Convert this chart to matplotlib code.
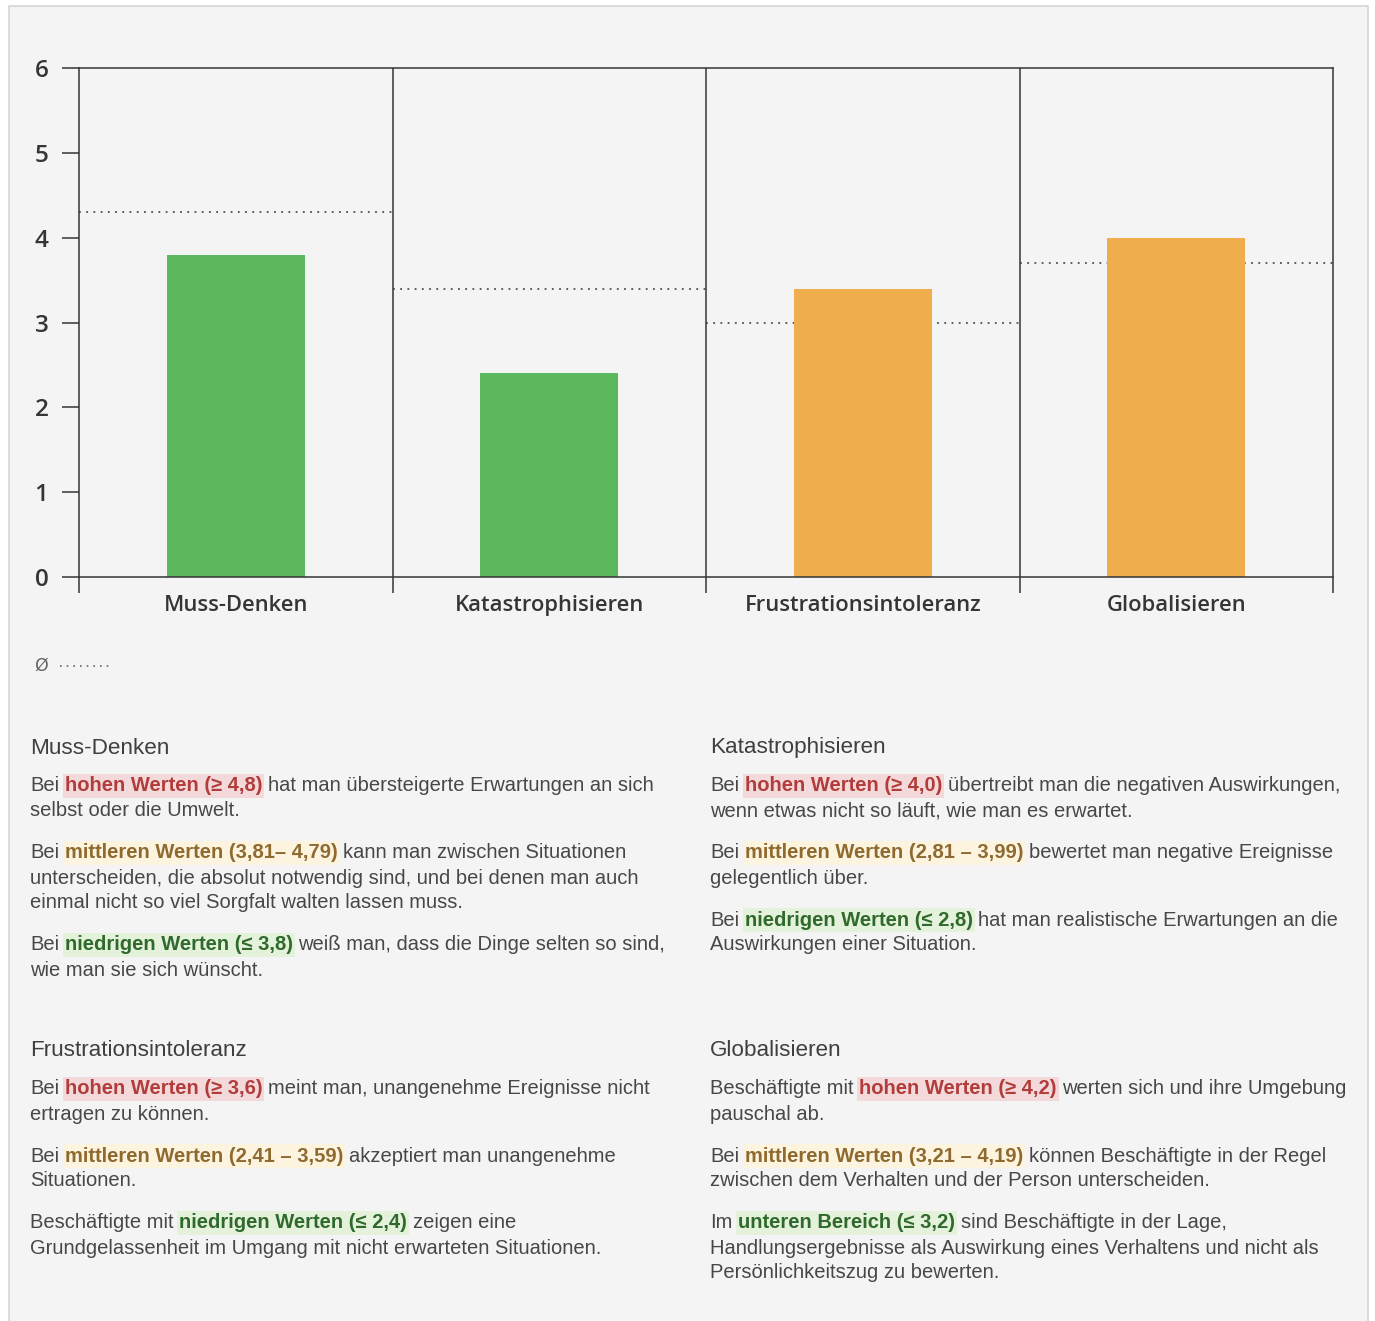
import matplotlib.pyplot as plt
from matplotlib.patches import Rectangle
from matplotlib.lines import Line2D

# chart data
categories = ["Muss-Denken", "Katastrophisieren", "Frustrationsintoleranz", "Globalisieren"]
scores = [3.8, 2.4, 3.4, 4.0]
averages = [4.3, 3.4, 3.0, 3.7]
bar_colors = ["#5cb85c", "#5cb85c", "#f0ad4e", "#f0ad4e"]
y_ticks = [0, 1, 2, 3, 4, 5, 6]

# description texts, hand-broken like the original
N, HI, MID, LO = "n", "hi", "mid", "lo"
desc_muss = [
    [[("Bei ", N), ("hohen Werten (≥ 4,8)", HI), (" hat man übersteigerte Erwartungen an sich", N)],
     [("selbst oder die Umwelt.", N)]],
    [[("Bei ", N), ("mittleren Werten (3,81– 4,79)", MID), (" kann man zwischen Situationen", N)],
     [("unterscheiden, die absolut notwendig sind, und bei denen man auch", N)],
     [("einmal nicht so viel Sorgfalt walten lassen muss.", N)]],
    [[("Bei ", N), ("niedrigen Werten (≤ 3,8)", LO), (" weiß man, dass die Dinge selten so sind,", N)],
     [("wie man sie sich wünscht.", N)]],
]
desc_kata = [
    [[("Bei ", N), ("hohen Werten (≥ 4,0)", HI), (" übertreibt man die negativen Auswirkungen,", N)],
     [("wenn etwas nicht so läuft, wie man es erwartet.", N)]],
    [[("Bei ", N), ("mittleren Werten (2,81 – 3,99)", MID), (" bewertet man negative Ereignisse", N)],
     [("gelegentlich über.", N)]],
    [[("Bei ", N), ("niedrigen Werten (≤ 2,8)", LO), (" hat man realistische Erwartungen an die", N)],
     [("Auswirkungen einer Situation.", N)]],
]
desc_frust = [
    [[("Bei ", N), ("hohen Werten (≥ 3,6)", HI), (" meint man, unangenehme Ereignisse nicht", N)],
     [("ertragen zu können.", N)]],
    [[("Bei ", N), ("mittleren Werten (2,41 – 3,59)", MID), (" akzeptiert man unangenehme", N)],
     [("Situationen.", N)]],
    [[("Beschäftigte mit ", N), ("niedrigen Werten (≤ 2,4)", LO), (" zeigen eine", N)],
     [("Grundgelassenheit im Umgang mit nicht erwarteten Situationen.", N)]],
]
desc_glob = [
    [[("Beschäftigte mit ", N), ("hohen Werten (≥ 4,2)", HI), (" werten sich und ihre Umgebung", N)],
     [("pauschal ab.", N)]],
    [[("Bei ", N), ("mittleren Werten (3,21 – 4,19)", MID), (" können Beschäftigte in der Regel", N)],
     [("zwischen dem Verhalten und der Person unterscheiden.", N)]],
    [[("Im ", N), ("unteren Bereich (≤ 3,2)", LO), (" sind Beschäftigte in der Lage,", N)],
     [("Handlungsergebnisse als Auswirkung eines Verhaltens und nicht als", N)],
     [("Persönlichkeitszug zu bewerten.", N)]],
]
descriptions = [desc_muss, desc_kata, desc_frust, desc_glob]

W, H = 1375, 1321
BG = "#f4f4f4"
DARK = "#353535"
TEXT = "#474747"
styles = {
    N: dict(color=TEXT, weight="normal", bg=None),
    HI: dict(color="#b13c3c", weight="bold", bg="#f3d9d9"),
    MID: dict(color="#8f6a30", weight="bold", bg="#fcf4de"),
    LO: dict(color="#2f6a2c", weight="bold", bg="#e4f1db"),
}

fig = plt.figure(figsize=(W / 100, H / 100), dpi=100, facecolor="white")
fig.patches.append(Rectangle((9 / W, -0.01), (1368 - 9) / W, 1 - 6 / H + 0.01,
                             transform=fig.transFigure, facecolor=BG,
                             edgecolor="#d6d6d6", linewidth=1.2, zorder=-10))

ax = fig.add_axes([79 / W, 1 - 577 / H, (1333 - 79) / W, (577 - 68) / H])
ax.set_facecolor(BG)
x = list(range(len(categories)))
for i, avg in enumerate(averages):
    ax.hlines(avg, i - 0.5, i + 0.5, colors="#4f4f4f", linestyles=(0, (1, 3)),
              linewidth=1.3, zorder=1)
ax.bar(x, scores, width=0.44, color=bar_colors, zorder=2)
for b in [0.5, 1.5, 2.5]:
    ax.axvline(b, color=DARK, linewidth=1.1, zorder=3)

ax.set_xlim(-0.5, len(categories) - 0.5)
ax.set_ylim(0, 6)
ax.set_yticks(y_ticks)
ax.set_yticklabels([str(t) for t in y_ticks], fontfamily="Open Sans",
                   fontweight="semibold", fontsize=17.5, color=DARK)
ax.set_xticks([i - 0.5 for i in range(len(categories) + 1)])
ax.set_xticklabels([])
ax.set_xticks(x, minor=True)
ax.set_xticklabels(categories, minor=True, fontfamily="Open Sans",
                   fontweight="semibold", fontsize=15.8, color=DARK)
ax.tick_params(axis="y", length=12, width=1.1, color=DARK, pad=10)
ax.tick_params(axis="x", which="major", length=11.5, width=1.1, color=DARK)
ax.tick_params(axis="x", which="minor", length=0, pad=13)
for s in ax.spines.values():
    s.set_color(DARK)
    s.set_linewidth(1.1)
    s.set_zorder(4)

# legend for the average line
fig.text(34 / W, 1 - 666 / H, "Ø", fontsize=12.5, color="#666666", va="center",
         fontfamily="DejaVu Sans")
fig.lines.append(Line2D([60 / W, 110 / W], [1 - 666 / H, 1 - 666 / H],
                        transform=fig.transFigure, color="#666666",
                        linestyle=(0, (1, 3)), linewidth=1.2))

renderer = fig.canvas.get_renderer()
BODY = 14.5


def text_width(s, weight):
    t = fig.text(0, 0, s, fontsize=BODY, fontfamily="Liberation Sans", fontweight=weight)
    w = t.get_window_extent(renderer).width
    t.remove()
    return w


space_w = {wt: text_width("x x", wt) - text_width("xx", wt) for wt in ["normal", "bold"]}


def draw_line(x0, y0, pieces):
    xp = x0
    for s, kind in pieces:
        st = styles[kind]
        lead = len(s) - len(s.lstrip(" "))
        trail = len(s) - len(s.rstrip(" "))
        xp += lead * space_w[st["weight"]]
        core = s.strip(" ")
        kw = {}
        if st["bg"]:
            kw["bbox"] = dict(facecolor=st["bg"], edgecolor="none", pad=1.4)
        t = fig.text(xp / W, 1 - y0 / H, core, fontsize=BODY, fontfamily="Liberation Sans",
                     fontweight=st["weight"], color=st["color"], va="center", **kw)
        xp += t.get_window_extent(renderer).width
        xp += trail * space_w[st["weight"]]


origins = [(30, 748), (710, 748), (30, 1051), (710, 1051)]
for (bx, by), title, paras in zip(origins, categories, descriptions):
    fig.text(bx / W, 1 - by / H, title, fontsize=16.2, fontfamily="Liberation Sans",
             color="#3f3f3f", va="center")
    y = by + 38
    for para in paras:
        for line in para:
            draw_line(bx, y, line)
            y += 25
        y += 17

fig.savefig("out.png", dpi=100, facecolor=fig.get_facecolor())
